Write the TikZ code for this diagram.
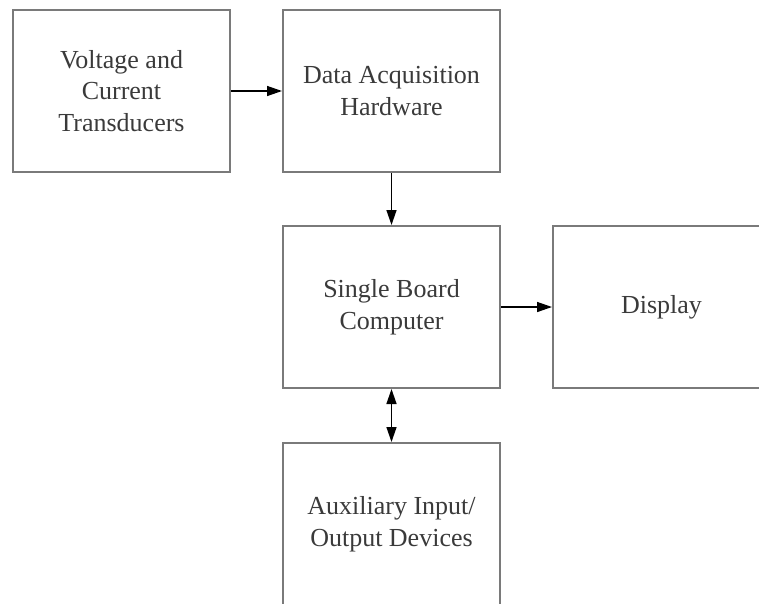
\documentclass[tikz,border=0pt]{standalone}
\usepackage{fontspec}
\setmainfont{Liberation Serif}
\usetikzlibrary{arrows.meta}
\definecolor{boxline}{HTML}{7A7A7A}
\definecolor{txt}{HTML}{3A3A3A}
\begin{document}
\begin{tikzpicture}[x=1pt,y=-1pt,
  blockbox/.style={draw=boxline, line width=2pt, rectangle, minimum width=217pt, minimum height=162pt, inner sep=0pt, align=center, text=txt, font=\fontsize{26}{31.5}\selectfont},
  conn/.style={draw=black, line width=1.4pt, -{Triangle[length=15pt,width=10pt]}},
  biconn/.style={draw=black, line width=1.4pt, {Triangle[length=15pt,width=10pt]}-{Triangle[length=15pt,width=10pt]}}]
\useasboundingbox (0,0) rectangle (759,603);
\clip (0,0) rectangle (759,603);
\node[blockbox] (vct) at (121.5,91) {Voltage and\\Current\\Transducers};
\node[blockbox] (daq) at (391.5,91) {Data Acquisition\\Hardware};
\node[blockbox] (sbc) at (391.5,307) {Single Board\\Computer};
\node[blockbox, text width=206pt] (disp) at (661.5,307) {Display};
\node[blockbox] (aux) at (391.5,524) {Auxiliary Input/\\Output Devices};
\draw[conn] (vct.east) -- (daq.west);
\draw[conn] (daq.south) -- (sbc.north);
\draw[conn] (sbc.east) -- (disp.west);
\draw[biconn] (sbc.south) -- (aux.north);
\end{tikzpicture}
\end{document}
